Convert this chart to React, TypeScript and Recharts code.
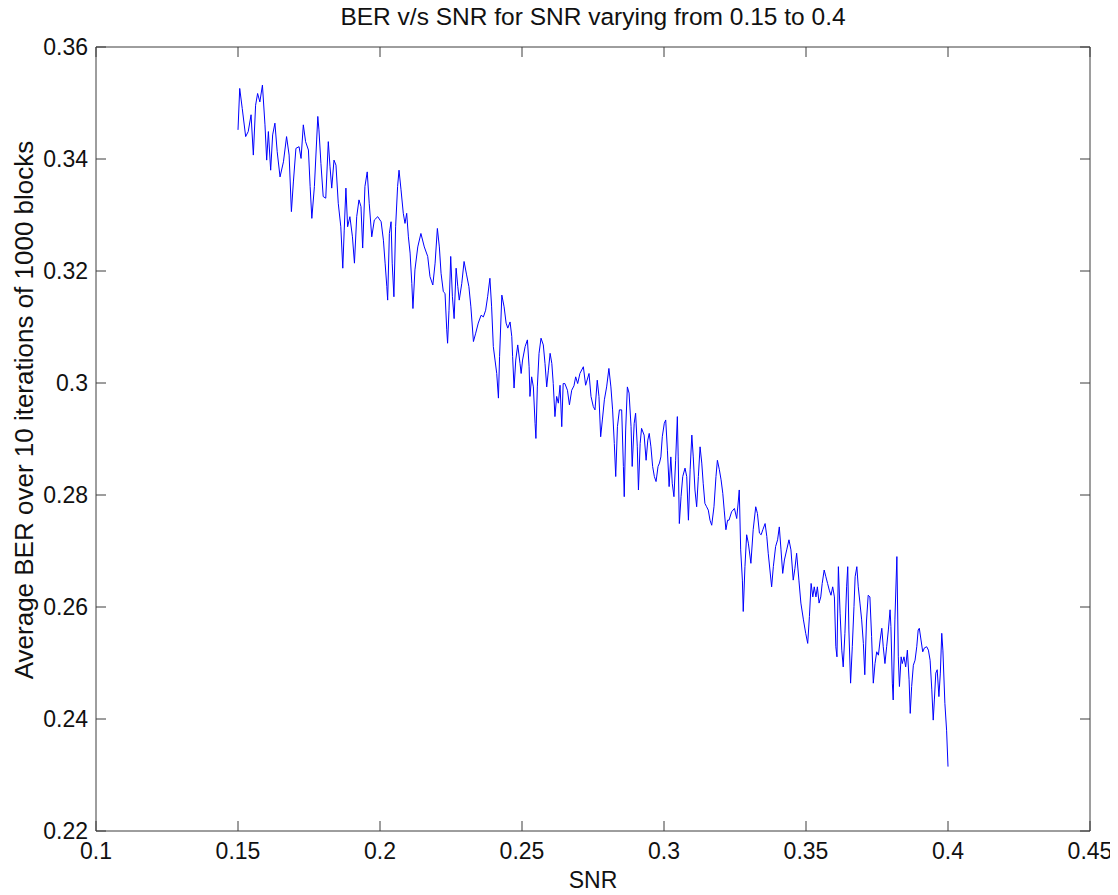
import React from 'react';
import { LineChart, Line, XAxis, YAxis, Label } from 'recharts';

const snr = [
  0.1500, 0.1506, 0.1515, 0.1527, 0.1536, 0.1546, 0.1554, 0.1562, 0.1569, 0.1577,
  0.1586, 0.1595, 0.1601, 0.1607, 0.1615, 0.1622, 0.1630, 0.1638, 0.1648, 0.1660,
  0.1671, 0.1680, 0.1688, 0.1695, 0.1704, 0.1715, 0.1722, 0.1730, 0.1738, 0.1748,
  0.1754, 0.1760, 0.1769, 0.1777, 0.1781, 0.1785, 0.1792, 0.1800, 0.1809, 0.1818,
  0.1824, 0.1830, 0.1838, 0.1845, 0.1853, 0.1862, 0.1869, 0.1874, 0.1880, 0.1886,
  0.1894, 0.1903, 0.1910, 0.1918, 0.1926, 0.1933, 0.1939, 0.1947, 0.1955, 0.1962,
  0.1971, 0.1980, 0.1992, 0.2004, 0.2012, 0.2018, 0.2024, 0.2027, 0.2033, 0.2039,
  0.2043, 0.2049, 0.2055, 0.2062, 0.2067, 0.2074, 0.2082, 0.2088, 0.2094, 0.2100,
  0.2106, 0.2112, 0.2116, 0.2123, 0.2133, 0.2144, 0.2156, 0.2168, 0.2176, 0.2186,
  0.2194, 0.2202, 0.2209, 0.2215, 0.2223, 0.2229, 0.2235, 0.2238, 0.2243, 0.2249,
  0.2255, 0.2261, 0.2268, 0.2274, 0.2279, 0.2288, 0.2296, 0.2305, 0.2313, 0.2320,
  0.2329, 0.2337, 0.2346, 0.2356, 0.2364, 0.2372, 0.2379, 0.2387, 0.2393, 0.2399,
  0.2405, 0.2411, 0.2417, 0.2421, 0.2429, 0.2437, 0.2444, 0.2450, 0.2458, 0.2464,
  0.2467, 0.2472, 0.2478, 0.2485, 0.2493, 0.2497, 0.2502, 0.2511, 0.2519, 0.2525,
  0.2528, 0.2534, 0.2540, 0.2546, 0.2549, 0.2554, 0.2560, 0.2567, 0.2575, 0.2581,
  0.2587, 0.2593, 0.2599, 0.2605, 0.2610, 0.2616, 0.2622, 0.2628, 0.2634, 0.2640,
  0.2645, 0.2651, 0.2660, 0.2667, 0.2675, 0.2683, 0.2689, 0.2696, 0.2704, 0.2716,
  0.2724, 0.2736, 0.2743, 0.2751, 0.2757, 0.2765, 0.2771, 0.2777, 0.2783, 0.2790,
  0.2798, 0.2806, 0.2813, 0.2819, 0.2825, 0.2830, 0.2836, 0.2843, 0.2851, 0.2857,
  0.2860, 0.2865, 0.2871, 0.2877, 0.2884, 0.2888, 0.2895, 0.2900, 0.2906, 0.2910,
  0.2916, 0.2921, 0.2930, 0.2937, 0.2943, 0.2948, 0.2954, 0.2960, 0.2966, 0.2972,
  0.2979, 0.2984, 0.2989, 0.2994, 0.3001, 0.3006, 0.3012, 0.3018, 0.3024, 0.3029,
  0.3035, 0.3041, 0.3047, 0.3050, 0.3054, 0.3060, 0.3066, 0.3074, 0.3080, 0.3086,
  0.3092, 0.3098, 0.3103, 0.3109, 0.3115, 0.3121, 0.3127, 0.3133, 0.3138, 0.3144,
  0.3150, 0.3156, 0.3162, 0.3168, 0.3176, 0.3183, 0.3188, 0.3195, 0.3201, 0.3207,
  0.3212, 0.3218, 0.3224, 0.3229, 0.3238, 0.3248, 0.3256, 0.3262, 0.3265, 0.3270,
  0.3276, 0.3279, 0.3285, 0.3291, 0.3297, 0.3306, 0.3314, 0.3323, 0.3329, 0.3336,
  0.3342, 0.3348, 0.3356, 0.3362, 0.3367, 0.3373, 0.3379, 0.3385, 0.3393, 0.3400,
  0.3406, 0.3412, 0.3418, 0.3424, 0.3432, 0.3440, 0.3447, 0.3455, 0.3461, 0.3467,
  0.3475, 0.3482, 0.3491, 0.3499, 0.3506, 0.3512, 0.3518, 0.3524, 0.3529, 0.3535,
  0.3540, 0.3546, 0.3552, 0.3557, 0.3564, 0.3570, 0.3576, 0.3582, 0.3588, 0.3594,
  0.3600, 0.3605, 0.3609, 0.3614, 0.3620, 0.3626, 0.3631, 0.3637, 0.3643, 0.3647,
  0.3651, 0.3657, 0.3663, 0.3669, 0.3673, 0.3679, 0.3684, 0.3690, 0.3696, 0.3702,
  0.3707, 0.3713, 0.3719, 0.3725, 0.3731, 0.3737, 0.3743, 0.3749, 0.3755, 0.3761,
  0.3767, 0.3772, 0.3778, 0.3784, 0.3790, 0.3796, 0.3799, 0.3804, 0.3807, 0.3813,
  0.3820, 0.3825, 0.3829, 0.3835, 0.3839, 0.3845, 0.3851, 0.3857, 0.3863, 0.3867,
  0.3872, 0.3878, 0.3884, 0.3890, 0.3895, 0.3899, 0.3905, 0.3911, 0.3917, 0.3925,
  0.3931, 0.3937, 0.3943, 0.3948, 0.3952, 0.3957, 0.3962, 0.3968, 0.3973, 0.3978,
  0.3982, 0.3989, 0.3995, 0.4000,
];

const ber = [
  0.3452, 0.3526, 0.3490, 0.3440, 0.3449, 0.3479, 0.3407, 0.3496, 0.3517, 0.3502,
  0.3532, 0.3461, 0.3398, 0.3449, 0.3380, 0.3443, 0.3464, 0.3413, 0.3368, 0.3395,
  0.3440, 0.3407, 0.3306, 0.3359, 0.3419, 0.3422, 0.3401, 0.3461, 0.3431, 0.3416,
  0.3351, 0.3294, 0.3351, 0.3434, 0.3476, 0.3452, 0.3392, 0.3333, 0.3330, 0.3431,
  0.3386, 0.3348, 0.3398, 0.3389, 0.3321, 0.3279, 0.3205, 0.3273, 0.3348, 0.3279,
  0.3297, 0.3261, 0.3214, 0.3297, 0.3327, 0.3315, 0.3241, 0.3351, 0.3377, 0.3321,
  0.3261, 0.3291, 0.3297, 0.3288, 0.3255, 0.3214, 0.3172, 0.3148, 0.3267, 0.3288,
  0.3214, 0.3154, 0.3279, 0.3351, 0.3380, 0.3345, 0.3303, 0.3285, 0.3303, 0.3261,
  0.3232, 0.3178, 0.3133, 0.3202, 0.3243, 0.3267, 0.3243, 0.3226, 0.3190, 0.3175,
  0.3214, 0.3276, 0.3243, 0.3196, 0.3163, 0.3160, 0.3095, 0.3071, 0.3130, 0.3226,
  0.3154, 0.3115, 0.3205, 0.3172, 0.3148, 0.3178, 0.3217, 0.3193, 0.3172, 0.3136,
  0.3074, 0.3089, 0.3107, 0.3121, 0.3118, 0.3130, 0.3154, 0.3187, 0.3136, 0.3065,
  0.3041, 0.3017, 0.2973, 0.3047, 0.3157, 0.3136, 0.3107, 0.3098, 0.3109, 0.3083,
  0.3047, 0.2991, 0.3041, 0.3068, 0.3035, 0.3017, 0.3041, 0.3065, 0.3077, 0.3029,
  0.2976, 0.3011, 0.2993, 0.2928, 0.2901, 0.2993, 0.3053, 0.3080, 0.3068, 0.3035,
  0.2993, 0.3023, 0.3053, 0.3035, 0.2999, 0.2940, 0.2976, 0.2964, 0.2996, 0.2922,
  0.2999, 0.2999, 0.2987, 0.2961, 0.2987, 0.2995, 0.3011, 0.2999, 0.3017, 0.3029,
  0.2996, 0.3017, 0.2976, 0.2958, 0.2952, 0.3005, 0.2976, 0.2904, 0.2934, 0.2970,
  0.2993, 0.3026, 0.2993, 0.2952, 0.2892, 0.2833, 0.2922, 0.2952, 0.2952, 0.2851,
  0.2797, 0.2916, 0.2993, 0.2982, 0.2922, 0.2851, 0.2928, 0.2946, 0.2886, 0.2809,
  0.2892, 0.2919, 0.2907, 0.2862, 0.2898, 0.2910, 0.2886, 0.2851, 0.2833, 0.2824,
  0.2851, 0.2857, 0.2868, 0.2904, 0.2928, 0.2934, 0.2880, 0.2815, 0.2868, 0.2821,
  0.2797, 0.2862, 0.2940, 0.2868, 0.2749, 0.2797, 0.2833, 0.2848, 0.2833, 0.2755,
  0.2845, 0.2907, 0.2868, 0.2809, 0.2779, 0.2833, 0.2886, 0.2857, 0.2821, 0.2785,
  0.2779, 0.2773, 0.2755, 0.2746, 0.2779, 0.2833, 0.2862, 0.2845, 0.2827, 0.2803,
  0.2773, 0.2738, 0.2755, 0.2755, 0.2770, 0.2776, 0.2758, 0.2791, 0.2809, 0.2702,
  0.2648, 0.2592, 0.2672, 0.2729, 0.2714, 0.2678, 0.2738, 0.2779, 0.2767, 0.2732,
  0.2729, 0.2738, 0.2749, 0.2726, 0.2696, 0.2666, 0.2636, 0.2672, 0.2708, 0.2720,
  0.2743, 0.2702, 0.2660, 0.2684, 0.2702, 0.2720, 0.2702, 0.2648, 0.2669, 0.2696,
  0.2648, 0.2607, 0.2577, 0.2553, 0.2535, 0.2583, 0.2642, 0.2618, 0.2636, 0.2618,
  0.2636, 0.2607, 0.2618, 0.2642, 0.2666, 0.2654, 0.2642, 0.2630, 0.2621, 0.2636,
  0.2618, 0.2529, 0.2511, 0.2672, 0.2589, 0.2523, 0.2493, 0.2553, 0.2636, 0.2672,
  0.2559, 0.2464, 0.2529, 0.2601, 0.2654, 0.2672, 0.2636, 0.2607, 0.2577, 0.2535,
  0.2479, 0.2575, 0.2621, 0.2618, 0.2547, 0.2464, 0.2499, 0.2520, 0.2514, 0.2541,
  0.2562, 0.2529, 0.2499, 0.2529, 0.2559, 0.2595, 0.2565, 0.2464, 0.2434, 0.2577,
  0.2690, 0.2511, 0.2458, 0.2511, 0.2499, 0.2511, 0.2493, 0.2523, 0.2470, 0.2410,
  0.2458, 0.2496, 0.2505, 0.2529, 0.2559, 0.2562, 0.2541, 0.2520, 0.2527, 0.2529,
  0.2523, 0.2505, 0.2452, 0.2398, 0.2434, 0.2482, 0.2488, 0.2440, 0.2482, 0.2553,
  0.2523, 0.2428, 0.2380, 0.2315,
];

const xTicks = [0.1, 0.15, 0.2, 0.25, 0.3, 0.35, 0.4, 0.45];
const xTickLabels = ['0.1', '0.15', '0.2', '0.25', '0.3', '0.35', '0.4', '0.45'];
const yTicks = [0.22, 0.24, 0.26, 0.28, 0.3, 0.32, 0.34, 0.36];
const yTickLabels = ['0.22', '0.24', '0.26', '0.28', '0.3', '0.32', '0.34', '0.36'];

const titleText = 'BER v/s SNR for SNR varying from 0.15 to 0.4';
const xLabelText = 'SNR';
const yLabelText = 'Average BER over 10 iterations of 1000 blocks';

const data = snr.map((s, i) => ({ snr: s, ber: ber[i] }));

const FONT = '"Liberation Sans", Arial, Helvetica, sans-serif';
const AXIS = '#3c3c3c';
const TEXT = '#111111';
const FS = 23;
const TL = 10;

const BottomTick = (props: any) => {
  const { x, y, payload } = props;
  const i = xTicks.indexOf(payload.value);
  return (
    <g>
      <line x1={x} y1={y} x2={x} y2={y - TL} stroke={AXIS} strokeWidth={1} />
      <text x={x} y={y + 28} textAnchor="middle" fontSize={FS} fontFamily={FONT} fill={TEXT}>
        {xTickLabels[i]}
      </text>
    </g>
  );
};

const TopTick = (props: any) => {
  const { x, y } = props;
  return <line x1={x} y1={y} x2={x} y2={y + TL} stroke={AXIS} strokeWidth={1} />;
};

const LeftTick = (props: any) => {
  const { x, y, payload } = props;
  const i = yTicks.indexOf(payload.value);
  return (
    <g>
      <line x1={x} y1={y} x2={x + TL} y2={y} stroke={AXIS} strokeWidth={1} />
      <text x={x - 8} y={y} dy="0.36em" textAnchor="end" fontSize={FS} fontFamily={FONT} fill={TEXT}>
        {yTickLabels[i]}
      </text>
    </g>
  );
};

const RightTick = (props: any) => {
  const { x, y } = props;
  return <line x1={x} y1={y} x2={x - TL} y2={y} stroke={AXIS} strokeWidth={1} />;
};

const YLabelContent = (props: any) => {
  const vb = props.viewBox || { x: 0, y: 0, width: 0, height: 0 };
  const cx = vb.x + 24;
  const cy = vb.y + vb.height / 2 - 29;
  return (
    <text
      x={cx}
      y={cy}
      transform={`rotate(-90, ${cx}, ${cy})`}
      textAnchor="middle"
      dy="0.36em"
      fontSize={26}
      fontFamily={FONT}
      fill={TEXT}
    >
      {yLabelText}
    </text>
  );
};

export default function App() {
  return (
    <div style={{ width: 1118, height: 895, margin: '-8px 0 0 -8px', background: '#ffffff' }}>
      <LineChart
        width={1118}
        height={895}
        data={data}
        margin={{ top: 46, right: 27, bottom: 0, left: 0 }}
        style={{ background: '#ffffff' }}
      >
        <XAxis
          dataKey="snr"
          type="number"
          domain={[0.1, 0.45]}
          ticks={xTicks}
          interval={0}
          allowDataOverflow
          height={64}
          tickSize={0}
          tickMargin={0}
          tick={BottomTick}
          tickLine={false}
          stroke={AXIS}
        >
          <Label
            value={xLabelText}
            position="insideBottom"
            offset={7}
            style={{ fontSize: FS, fontFamily: FONT, fill: TEXT }}
          />
        </XAxis>
        <XAxis
          xAxisId="top"
          dataKey="snr"
          orientation="top"
          type="number"
          domain={[0.1, 0.45]}
          ticks={xTicks}
          interval={0}
          allowDataOverflow
          height={1}
          tickSize={0}
          tickMargin={0}
          tick={TopTick}
          tickLine={false}
          stroke={AXIS}
        >
          <Label
            value={titleText}
            position="top"
            offset={21}
            style={{ fontSize: 24.5, fontFamily: FONT, fill: TEXT }}
          />
        </XAxis>
        <YAxis
          type="number"
          domain={[0.22, 0.36]}
          ticks={yTicks}
          interval={0}
          allowDataOverflow
          width={96}
          tickSize={0}
          tickMargin={0}
          tick={LeftTick}
          tickLine={false}
          stroke={AXIS}
        >
          <Label content={YLabelContent} />
        </YAxis>
        <YAxis
          yAxisId="right"
          orientation="right"
          type="number"
          domain={[0.22, 0.36]}
          ticks={yTicks}
          interval={0}
          allowDataOverflow
          width={1}
          tickSize={0}
          tickMargin={0}
          tick={RightTick}
          tickLine={false}
          stroke={AXIS}
        />
        <Line
          xAxisId="top"
          yAxisId="right"
          type="linear"
          dataKey="ber"
          stroke="none"
          strokeWidth={0}
          dot={false}
          activeDot={false}
          legendType="none"
          isAnimationActive={false}
        />
        <Line
          type="linear"
          dataKey="ber"
          stroke="#0000ff"
          strokeWidth={1}
          dot={false}
          activeDot={false}
          isAnimationActive={false}
        />
      </LineChart>
    </div>
  );
}
